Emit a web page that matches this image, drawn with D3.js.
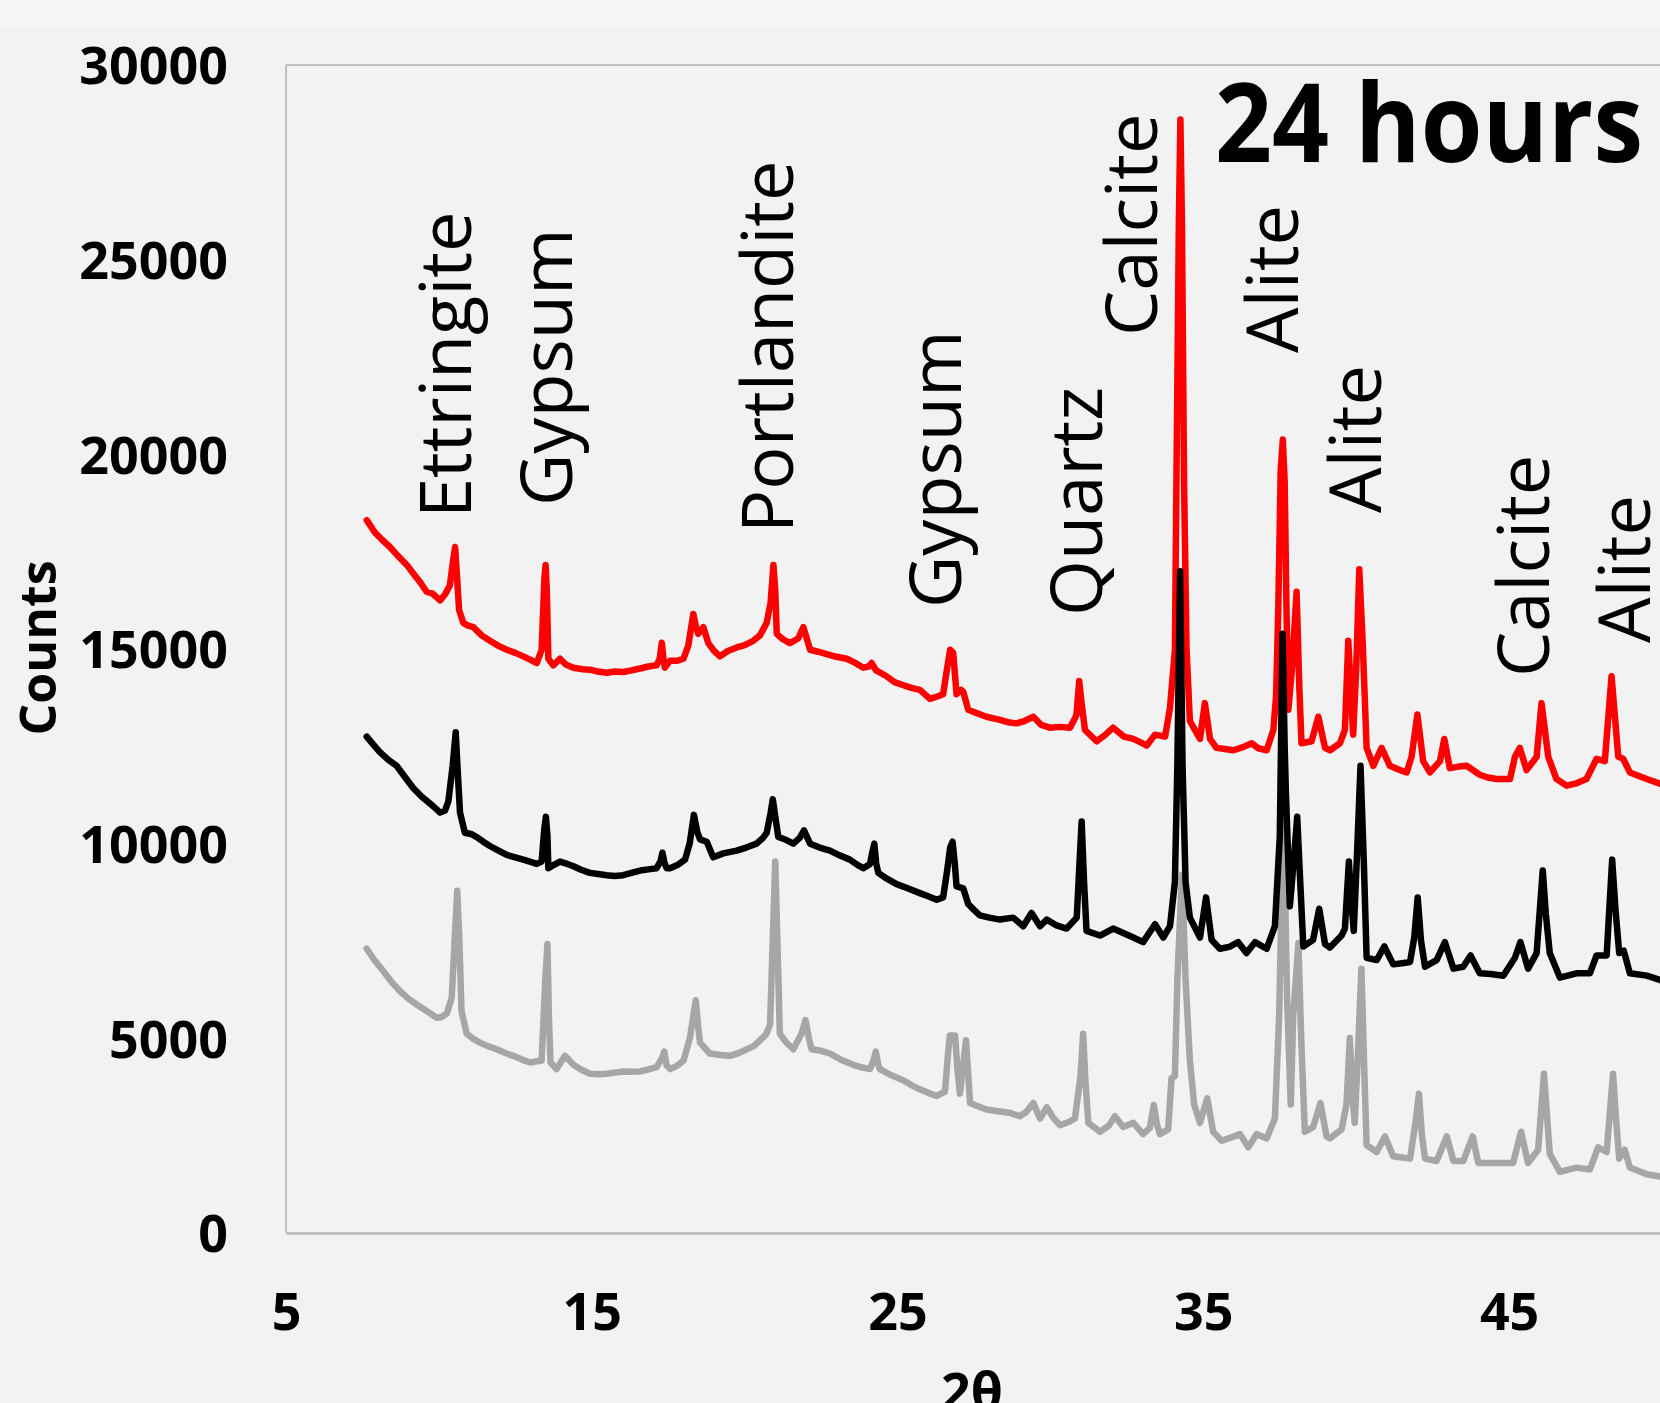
<!DOCTYPE html>
<html>
<head>
<meta charset="utf-8">
<script src="https://cdn.jsdelivr.net/npm/d3@7"></script>
<style>
  html, body { margin: 0; padding: 0; background: #f2f2f2; }
  svg { display: block; }
</style>
</head>
<body>
<script>
// ---------------- DATA ----------------
const xTicks = [5, 15, 25, 35, 45];
const yTicks = [0, 5000, 10000, 15000, 20000, 25000, 30000];
const titleText = "24 hours";
const xAxisTitle = "2θ";
const yAxisTitle = "Counts";

// phase labels: name, 2θ of label baseline, counts at label start
const labelNames  = ["Ettringite", "Gypsum", "Portlandite", "Gypsum", "Quartz", "Calcite", "Alite", "Alite", "Calcite", "Alite"];
const labelAngles = [11.05, 14.35, 21.58, 27.07, 31.68, 33.48, 38.09, 40.81, 46.30, 49.60];
const labelCounts = [18365, 18673, 17980, 16053, 15847, 23040, 22603, 18493, 14281, 15154];

// series: [2θ, counts]
const redSeries = [
[7.64,18310],[7.9,18000],[8.15,17800],[8.4,17620],[8.65,17400],[8.95,17160],[9.2,16900],[9.4,16700],[9.6,16470],[9.8,16420],[10.04,16250],[10.2,16400],[10.36,16640],[10.47,17300],[10.53,17620],[10.59,16900],[10.66,16000],[10.8,15670],[10.95,15600],[11.13,15560],[11.4,15350],[11.67,15210],[11.95,15080],[12.22,14980],[12.5,14900],[12.76,14810],[13.0,14720],[13.2,14640],[13.36,14980],[13.45,16800],[13.49,17160],[13.53,16500],[13.58,14750],[13.74,14580],[13.96,14750],[14.15,14600],[14.4,14520],[14.7,14480],[14.94,14470],[15.2,14420],[15.49,14390],[15.75,14420],[16.03,14410],[16.3,14450],[16.58,14500],[16.85,14550],[17.12,14580],[17.22,14750],[17.29,15160],[17.35,14700],[17.39,14520],[17.56,14700],[17.8,14700],[18.0,14750],[18.16,15100],[18.32,15900],[18.4,15600],[18.48,15390],[18.65,15560],[18.81,15150],[19.0,14950],[19.19,14810],[19.45,14950],[19.74,15040],[20.0,15100],[20.28,15210],[20.5,15350],[20.72,15670],[20.85,16200],[20.94,17160],[21.0,16500],[21.05,15390],[21.25,15250],[21.48,15150],[21.75,15270],[21.92,15560],[22.14,14980],[22.4,14930],[22.68,14870],[23.0,14800],[23.34,14750],[23.6,14650],[23.88,14520],[24.05,14550],[24.15,14640],[24.3,14450],[24.64,14300],[24.9,14150],[25.19,14070],[25.45,14000],[25.73,13950],[26.06,13720],[26.3,13780],[26.49,13840],[26.62,14500],[26.72,14980],[26.82,14900],[26.93,13840],[27.08,13950],[27.15,13900],[27.31,13440],[27.6,13350],[27.91,13260],[28.35,13180],[28.6,13120],[28.89,13090],[29.15,13150],[29.44,13260],[29.7,13050],[29.98,12980],[30.3,13000],[30.64,12980],[30.85,13300],[30.94,14180],[31.02,13600],[31.13,12920],[31.51,12630],[31.8,12800],[32.05,12980],[32.4,12750],[32.71,12690],[32.95,12600],[33.15,12520],[33.42,12800],[33.75,12750],[33.91,13490],[34.07,14980],[34.12,19300],[34.2,26000],[34.25,28600],[34.3,26000],[34.37,19300],[34.45,15000],[34.56,13150],[34.89,12690],[35.05,13610],[35.22,12690],[35.43,12460],[35.7,12430],[35.98,12400],[36.3,12480],[36.58,12580],[36.8,12450],[37.07,12400],[37.29,12920],[37.38,13800],[37.45,16000],[37.53,19600],[37.6,20380],[37.66,19300],[37.72,16000],[37.78,13440],[37.9,14500],[38.05,16470],[38.14,14000],[38.21,12580],[38.54,12630],[38.76,13260],[38.98,12460],[39.14,12400],[39.47,12580],[39.63,12920],[39.74,15210],[39.82,14000],[39.9,12800],[40.0,14500],[40.1,17050],[40.22,15000],[40.34,12460],[40.56,12000],[40.83,12460],[41.1,12000],[41.4,11900],[41.65,11830],[41.81,12230],[42.0,13320],[42.19,12120],[42.41,11830],[42.74,12120],[42.88,12690],[43.06,11940],[43.35,11980],[43.61,12000],[44.04,11770],[44.3,11700],[44.59,11660],[45.03,11660],[45.19,12230],[45.35,12460],[45.57,11890],[45.9,12230],[46.06,13610],[46.28,12230],[46.55,11660],[46.88,11490],[47.2,11550],[47.53,11660],[47.86,12180],[48.13,12120],[48.35,14300],[48.57,12230],[48.73,12180],[48.95,11830],[49.5,11660],[49.93,11540],[50,11520]
];

const blackSeries = [
[7.64,12750],[7.85,12550],[8.07,12350],[8.35,12150],[8.62,12000],[8.9,11700],[9.16,11430],[9.45,11200],[9.71,11030],[9.9,10900],[10.04,10800],[10.2,10850],[10.31,11090],[10.45,12000],[10.55,12860],[10.62,11800],[10.69,10800],[10.85,10280],[11.05,10250],[11.24,10170],[11.45,10050],[11.67,9940],[11.95,9820],[12.22,9710],[12.5,9650],[12.76,9590],[13.0,9530],[13.2,9480],[13.36,9540],[13.45,10400],[13.5,10690],[13.55,10200],[13.58,9370],[13.75,9450],[13.96,9540],[14.2,9480],[14.4,9420],[14.65,9330],[14.94,9250],[15.2,9220],[15.49,9190],[15.75,9170],[16.03,9190],[16.3,9250],[16.58,9310],[16.85,9340],[17.12,9370],[17.25,9550],[17.31,9770],[17.38,9500],[17.45,9370],[17.56,9370],[17.8,9450],[18.05,9590],[18.2,10000],[18.34,10740],[18.45,10300],[18.54,10110],[18.76,10050],[18.97,9650],[19.3,9750],[19.74,9820],[20.05,9900],[20.39,10000],[20.6,10150],[20.72,10280],[20.85,10800],[20.92,11140],[21.0,10700],[21.1,10170],[21.35,10100],[21.59,10000],[21.8,10150],[21.94,10340],[22.14,10000],[22.45,9900],[22.79,9820],[23.1,9700],[23.44,9590],[23.7,9450],[23.88,9370],[24.1,9480],[24.18,9800],[24.24,10000],[24.3,9500],[24.37,9250],[24.65,9100],[24.97,8960],[25.35,8850],[25.73,8730],[26.0,8650],[26.28,8560],[26.49,8620],[26.62,9300],[26.72,9900],[26.8,10050],[26.87,9500],[26.93,8900],[27.15,8850],[27.31,8450],[27.5,8300],[27.69,8160],[28.0,8100],[28.35,8050],[28.78,8100],[29.11,7880],[29.38,8220],[29.66,7880],[29.88,8050],[30.2,7900],[30.53,7820],[30.86,8100],[30.95,9500],[31.02,10570],[31.1,9000],[31.18,7760],[31.62,7640],[32.05,7820],[32.4,7700],[32.71,7590],[33.03,7470],[33.42,7930],[33.69,7590],[33.91,7880],[34.07,9020],[34.15,12000],[34.24,17000],[34.32,12000],[34.42,9000],[34.56,8100],[34.89,7590],[35.09,8620],[35.27,7530],[35.54,7300],[35.85,7350],[36.14,7470],[36.41,7190],[36.69,7470],[37.07,7300],[37.34,7880],[37.5,10170],[37.59,15390],[37.66,12500],[37.7,11310],[37.83,8390],[37.95,9500],[38.07,10690],[38.17,9000],[38.27,7360],[38.59,7530],[38.79,8330],[38.98,7420],[39.14,7330],[39.52,7640],[39.63,7820],[39.76,9540],[39.84,8500],[39.92,7760],[40.03,9800],[40.14,12000],[40.25,9500],[40.34,7070],[40.67,7010],[40.92,7360],[41.21,6900],[41.5,6930],[41.76,6960],[41.9,7600],[42.01,8620],[42.12,7500],[42.25,6840],[42.63,7010],[42.9,7470],[43.18,6790],[43.5,6840],[43.74,7130],[44.04,6670],[44.4,6650],[44.81,6610],[45.19,7070],[45.37,7470],[45.62,6790],[45.9,7190],[46.1,9310],[46.2,8200],[46.33,7190],[46.66,6560],[47.2,6670],[47.64,6670],[47.86,7130],[48.19,7130],[48.37,9590],[48.48,8300],[48.6,7190],[48.75,7250],[48.95,6670],[49.5,6610],[49.93,6500],[50,6480]
];

const graySeries = [
[7.64,7300],[7.9,7000],[8.18,6730],[8.45,6450],[8.73,6210],[9.0,6020],[9.27,5870],[9.6,5700],[9.93,5530],[10.1,5550],[10.26,5640],[10.42,6040],[10.52,7600],[10.6,8790],[10.67,7500],[10.74,5700],[10.91,5120],[11.1,5000],[11.34,4890],[11.6,4800],[11.89,4720],[12.15,4630],[12.43,4550],[12.7,4460],[12.98,4380],[13.36,4430],[13.48,6500],[13.55,7420],[13.6,5500],[13.65,4380],[13.85,4210],[14.12,4550],[14.4,4320],[14.65,4200],[14.94,4090],[15.2,4080],[15.49,4090],[15.75,4120],[16.03,4150],[16.3,4140],[16.58,4150],[16.85,4200],[17.12,4260],[17.3,4500],[17.37,4660],[17.45,4300],[17.56,4210],[17.8,4300],[18.0,4430],[18.21,5010],[18.4,5980],[18.48,5300],[18.54,4890],[18.86,4610],[19.2,4570],[19.52,4550],[19.8,4620],[20.07,4720],[20.3,4800],[20.5,4950],[20.7,5100],[20.83,5350],[20.93,7800],[21.0,9540],[21.07,7500],[21.15,5120],[21.35,4900],[21.59,4720],[21.86,5120],[21.99,5470],[22.1,5000],[22.19,4720],[22.5,4680],[22.79,4610],[23.15,4450],[23.55,4320],[23.85,4250],[24.1,4210],[24.22,4450],[24.29,4660],[24.36,4350],[24.42,4210],[24.8,4050],[25.19,3920],[25.45,3800],[25.73,3690],[26.0,3600],[26.28,3520],[26.55,3630],[26.65,4600],[26.71,5070],[26.88,5070],[26.96,4200],[27.04,3580],[27.14,4300],[27.24,4950],[27.3,4200],[27.37,3340],[27.65,3250],[27.91,3170],[28.35,3120],[28.7,3080],[29.0,3000],[29.2,3100],[29.44,3340],[29.66,2940],[29.88,3230],[30.1,2950],[30.31,2770],[30.6,2850],[30.8,2940],[30.98,4000],[31.07,5120],[31.15,3800],[31.24,2830],[31.62,2600],[31.9,2750],[32.11,3000],[32.38,2720],[32.71,2830],[33.03,2540],[33.25,2700],[33.38,3290],[33.48,2800],[33.58,2540],[33.85,2660],[33.96,3980],[34.07,4030],[34.15,6500],[34.3,9200],[34.42,6500],[34.56,4430],[34.7,3300],[34.89,2830],[35.13,3460],[35.32,2600],[35.6,2370],[35.9,2450],[36.2,2540],[36.47,2200],[36.74,2540],[37.07,2430],[37.34,2940],[37.48,5580],[37.62,11000],[37.74,6000],[37.86,3300],[37.94,5580],[38.11,7450],[38.2,5000],[38.32,2600],[38.59,2720],[38.83,3340],[39.03,2480],[39.14,2430],[39.52,2660],[39.68,3290],[39.79,5010],[39.88,3500],[39.95,2830],[40.05,4500],[40.17,6790],[40.27,4000],[40.34,2260],[40.67,2080],[40.94,2480],[41.21,1970],[41.5,1940],[41.76,1910],[41.95,2900],[42.05,3580],[42.15,2500],[42.25,1910],[42.63,1850],[42.96,2480],[43.18,1850],[43.5,1850],[43.81,2480],[43.99,1800],[44.3,1800],[44.59,1800],[45.13,1800],[45.39,2600],[45.62,1800],[45.95,2140],[46.14,4090],[46.24,3000],[46.33,2030],[46.66,1570],[47.2,1680],[47.64,1630],[47.91,2200],[48.19,2080],[48.4,4090],[48.5,2900],[48.6,1910],[48.78,2140],[48.95,1680],[49.5,1510],[49.93,1450],[50,1440]
];

// ---------------- CHART ----------------
const W = 1660, H = 1403;
const plot = { left: 286, top: 65, bottom: 1233, right: 1662 };

const svg = d3.select("body").append("svg")
  .attr("width", W).attr("height", H)
  .style("font-family", "'Open Sans', 'Noto Sans', sans-serif");

svg.append("rect").attr("width", W).attr("height", H).attr("fill", "#f2f2f2");
svg.append("rect").attr("width", W).attr("height", 27).attr("fill", "#f5f5f5");

const x = d3.scaleLinear().domain([5, 50]).range([plot.left, plot.right]);
const y = d3.scaleLinear().domain([0, 30000]).range([plot.bottom, plot.top]);

// frame
const frame = svg.append("g").attr("stroke", "#c0c0c0").attr("fill", "none");
frame.append("line").attr("x1", plot.left).attr("x2", plot.left).attr("y1", plot.top).attr("y2", plot.bottom).attr("stroke-width", 2);
frame.append("line").attr("x1", plot.left).attr("x2", W).attr("y1", plot.top).attr("y2", plot.top).attr("stroke-width", 2);

// axes
const yAxis = svg.append("g").attr("transform", `translate(${plot.left},0)`)
  .call(d3.axisLeft(y).tickValues(yTicks).tickSize(0).tickPadding(58).tickFormat(d3.format("d")));
yAxis.select(".domain").remove();
yAxis.selectAll("text").attr("font-size", 52).attr("font-weight", 700).attr("fill", "#000")
  .attr("dy", "0.36em").style("font-family", "'Open Sans', sans-serif");

const xAxis = svg.append("g").attr("transform", `translate(0,${plot.bottom})`)
  .call(d3.axisBottom(x).tickValues(xTicks).tickSize(0).tickPadding(60).tickFormat(d3.format("d")));
xAxis.select(".domain").attr("stroke", "#c0c0c0").attr("stroke-width", 3);
xAxis.selectAll("text").attr("font-size", 52).attr("font-weight", 700).attr("fill", "#000")
  .style("font-family", "'Open Sans', sans-serif");

// clip
svg.append("clipPath").attr("id", "clip").append("rect")
  .attr("x", plot.left).attr("y", plot.top - 10).attr("width", plot.right - plot.left).attr("height", plot.bottom - plot.top + 10);

const line = d3.line().x(d => x(d[0])).y(d => y(d[1]));
const lines = svg.append("g").attr("clip-path", "url(#clip)")
  .attr("fill", "none").attr("stroke-width", 6.5).attr("stroke-linejoin", "round").attr("stroke-linecap", "round");

const seriesList = [
  { data: redSeries, color: "#ff0000" },
  { data: graySeries, color: "#a6a6a6" },
  { data: blackSeries, color: "#000000" }
];
lines.selectAll("path").data(seriesList).join("path")
  .attr("d", d => line(d.data)).attr("stroke", d => d.color);

// phase labels
svg.append("g").selectAll("text").data(labelNames.map((n, i) => ({ n, a: labelAngles[i], c: labelCounts[i] })))
  .join("text")
  .attr("transform", d => `translate(${x(d.a)},${y(d.c)}) rotate(-90)`)
  .attr("font-size", 72).attr("fill", "#000").attr("text-anchor", "start")
  .text(d => d.n);

// title
svg.append("text").attr("x", 1215).attr("y", 162)
  .attr("font-size", 110).attr("font-weight", 700).attr("fill", "#000")
  .attr("textLength", 428).attr("lengthAdjust", "spacingAndGlyphs")
  .text(titleText);

// axis titles
svg.append("text").attr("transform", "translate(56,648) rotate(-90)")
  .attr("text-anchor", "middle").attr("font-size", 50).attr("font-weight", 700).attr("fill", "#000")
  .text(yAxisTitle);
svg.append("text").attr("x", 972).attr("y", 1410)
  .attr("text-anchor", "middle").attr("font-size", 52).attr("font-weight", 700).attr("fill", "#000")
  .text(xAxisTitle);
</script>
</body>
</html>
